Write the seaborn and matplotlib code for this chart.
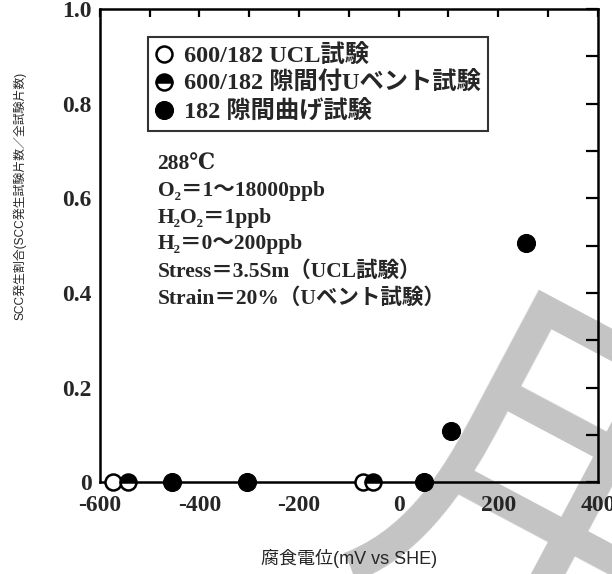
import matplotlib
matplotlib.use("Agg")
import matplotlib.pyplot as plt
import seaborn as sns
import pandas as pd
from matplotlib.ticker import MultipleLocator, FixedLocator, FuncFormatter

# corrosion potential (mV vs SHE) and SCC occurrence ratio per test series
ucl_x = [-574, -71]
ucl_y = [0.0, 0.0]
ubend_x = [-544, -51]
ubend_y = [0.0, 0.0]
crevice_x = [-455, -304, 50, 106, 255]
crevice_y = [0.0, 0.0, 0.0, 0.108, 0.505]

series_labels = ["600/182 UCL試験", "600/182 隙間付Uベント試験", "182 隙間曲げ試験"]
x_ticks = [-600, -400, -200, 0, 200, 400]
y_ticks = [0, 0.2, 0.4, 0.6, 0.8, 1.0]
conditions = ["288℃",
              "O₂＝1～18000ppb",
              "H₂O₂＝1ppb",
              "H₂＝0～200ppb",
              "Stress＝3.5Sm（UCL試験）",
              "Strain＝20%（Uベント試験）"]

sns.set_theme(style="white")
serif_jp = ["Liberation Serif", "DejaVu Serif", "Noto Sans CJK JP"]
sans_jp = ["Liberation Sans", "Noto Sans CJK JP", "DejaVu Sans"]
plt.rcParams["font.family"] = serif_jp
plt.rcParams["axes.unicode_minus"] = False

fig = plt.figure(figsize=(6.12, 5.74), dpi=100)
ax = fig.add_axes([0.163, 0.160, 0.814, 0.824])
ax.set_facecolor("none")

common = dict(ax=ax, marker="o", linestyle="", color="black", estimator=None,
              sort=False, clip_on=False, zorder=5)
df_ucl = pd.DataFrame({"x": ucl_x, "y": ucl_y})
df_ub = pd.DataFrame({"x": ubend_x, "y": ubend_y})
df_cr = pd.DataFrame({"x": crevice_x, "y": crevice_y})

sns.lineplot(data=df_ucl, x="x", y="y", markersize=11.5, markerfacecolor="white",
             markeredgecolor="black", markeredgewidth=1.8, label=series_labels[0], **common)
sns.lineplot(data=df_ub, x="x", y="y", markersize=11.5, fillstyle="top",
             markerfacecolor="black", markerfacecoloralt="white",
             markeredgecolor="black", markeredgewidth=1.8, label=series_labels[1], **common)
sns.lineplot(data=df_cr, x="x", y="y", markersize=13, markerfacecolor="black",
             markeredgecolor="black", label=series_labels[2], **common)

ax.set_xlim(-600, 400)
ax.set_ylim(0, 1.0)
ax.xaxis.set_major_locator(FixedLocator(x_ticks))
ax.xaxis.set_minor_locator(MultipleLocator(100))
ax.yaxis.set_major_locator(FixedLocator(y_ticks))
ax.yaxis.set_minor_locator(MultipleLocator(0.1))
ax.yaxis.set_major_formatter(FuncFormatter(lambda v, p: "0" if v == 0 else f"{v:.1f}"))

for s in ax.spines.values():
    s.set_linewidth(1.8)
    s.set_color("black")
ax.tick_params(which="both", direction="in", top=True, right=True, width=1.6, color="black")
ax.tick_params(axis="x", which="both", length=6, pad=9)
ax.tick_params(axis="y", which="both", length=9, pad=6)
for lab in ax.get_xticklabels() + ax.get_yticklabels():
    lab.set_fontweight("bold")
    lab.set_fontsize(17)

ax.set_xlabel("腐食電位(mV vs SHE)", family=sans_jp, fontsize=13, labelpad=24)
ax.set_ylabel("SCC発生割合(SCC発生試験片数／全試験片数)", family=sans_jp, fontsize=8.6)
ax.yaxis.set_label_coords(-0.148, 0.605)

leg = ax.legend(loc="upper left", bbox_to_anchor=(0.096, 0.941), borderaxespad=0,
                frameon=True, fancybox=False, handlelength=0.75, handletextpad=0.45,
                borderpad=0.3, labelspacing=0.2,
                prop={"family": serif_jp, "weight": "bold", "size": 17.5})
leg.get_frame().set_edgecolor("black")
leg.get_frame().set_linewidth(1.5)

ax.text(0.116, 0.692, "\n".join(conditions), transform=ax.transAxes, va="top", ha="left",
        fontsize=15.5, fontweight="bold", linespacing=1.43, family=serif_jp)

# faint background stamp behind the plot
fig.text(0.928, 0.070, "用", family="Noto Sans CJK JP", fontsize=290, color="#c4c4c4",
         rotation=-28, ha="center", va="center", zorder=-1)

fig.savefig("out.png", dpi=100, facecolor="white")
